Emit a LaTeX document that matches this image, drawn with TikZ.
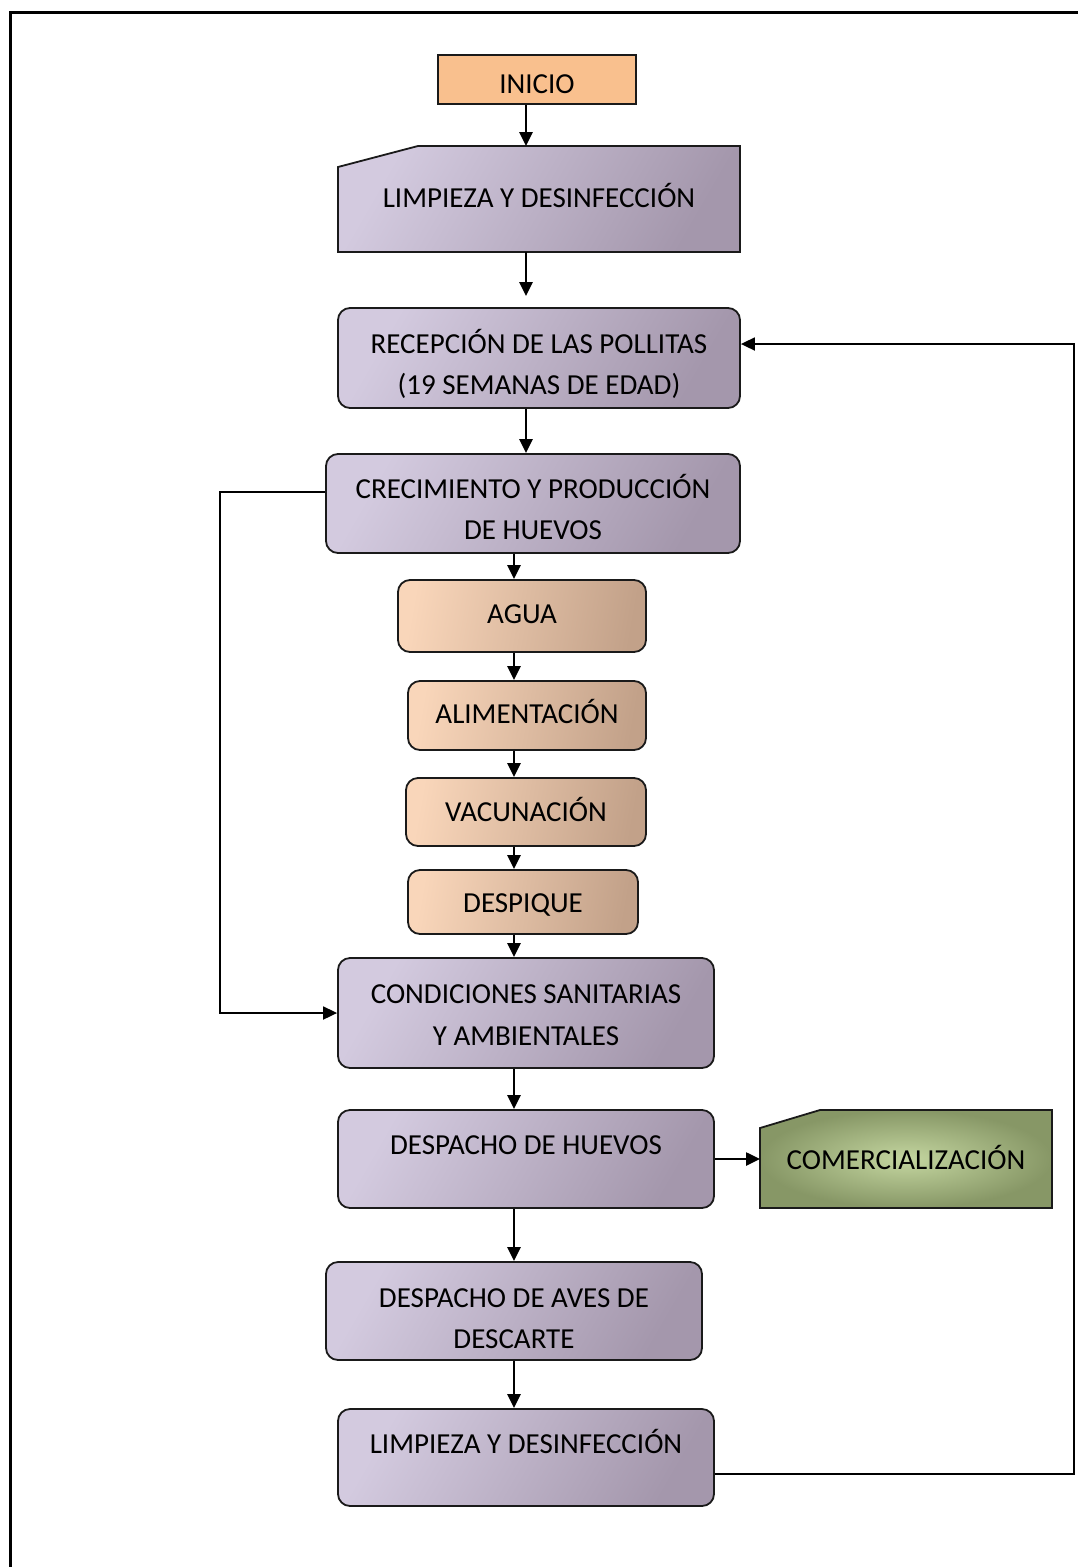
\documentclass[tikz,border=0pt]{standalone}
\usepackage{fontspec}
\setmainfont{Carlito}
\usetikzlibrary{arrows.meta,calc}
\definecolor{edge}{HTML}{1A1A1A}
\definecolor{orangefill}{HTML}{F9C08E}
\definecolor{lavL}{HTML}{D3CADF}
\definecolor{lavD}{HTML}{A497AC}
\definecolor{brL}{HTML}{F9D6BA}
\definecolor{brD}{HTML}{C2A189}
\definecolor{grIn}{HTML}{C4D6A0}
\definecolor{grOut}{HTML}{879766}
\tikzset{
  boxbase/.style={draw=edge, line width=1.8pt, inner sep=0pt},
  roundbox/.style={boxbase, rounded corners=12pt},
  lav/.style={left color=lavL, right color=lavD, shading angle=60},
  brown/.style={left color=brL, right color=brD, shading angle=80},
  green/.style={inner color=grIn, outer color=grOut},
  ghost/.style={inner sep=0pt, outer sep=0pt},
  txt/.style={anchor=base, inner sep=0pt, text=black, font=\fontsize{29}{35}\selectfont},
  arr/.style={line width=2.6pt, -{Triangle[length=14pt,width=13pt]}},
  looparr/.style={line width=1.8pt, -{Triangle[length=14pt,width=13pt]}},
}
\begin{document}
\begin{tikzpicture}[x=1pt,y=-1pt]
\useasboundingbox (0,0) rectangle (1078,1567);
\fill[white] (0,0) rectangle (1078,1567);
% frame
\draw[line width=3pt] (10,1567) -- (10,12) -- (1078,12);

\coordinate (spineA) at (526,0);
\coordinate (spineB) at (514,0);

% boxes
\node[boxbase, fill=orangefill, minimum width=198pt, minimum height=49pt] (inicio) at (537,79.5) {};
\node[ghost, minimum width=402pt, minimum height=106pt] (limp1) at (539,199) {};
\path[boxbase, lav] ($(limp1.north west)+(0,21)$) -- ($(limp1.north west)+(80,0)$) -- (limp1.north east) -- (limp1.south east) -- (limp1.south west) -- cycle;
\node[roundbox, lav, minimum width=402pt, minimum height=100pt] (recep) at (539,358) {};
\node[roundbox, lav, minimum width=414pt, minimum height=99pt] (crec) at (533,503.5) {};
\node[roundbox, brown, minimum width=248pt, minimum height=72pt] (agua) at (522,616) {};
\node[roundbox, brown, minimum width=238pt, minimum height=69pt] (alim) at (527,715.5) {};
\node[roundbox, brown, minimum width=240pt, minimum height=68pt] (vac) at (526,812) {};
\node[roundbox, brown, minimum width=230pt, minimum height=64pt] (desp) at (523,902) {};
\node[roundbox, lav, minimum width=376pt, minimum height=110pt] (cond) at (526,1013) {};
\node[roundbox, lav, minimum width=376pt, minimum height=98pt] (dhue) at (526,1159) {};
\node[ghost, minimum width=292pt, minimum height=98pt] (comerc) at (906,1159) {};
\path[boxbase, green] ($(comerc.north west)+(0,18)$) -- ($(comerc.north west)+(60,0)$) -- (comerc.north east) -- (comerc.south east) -- (comerc.south west) -- cycle;
\node[roundbox, lav, minimum width=376pt, minimum height=98pt] (aves) at (514,1311) {};
\node[roundbox, lav, minimum width=376pt, minimum height=97pt] (limp2) at (526,1457.5) {};

% texts
\node[txt] (tinicio) at (537,93) {INICIO};
\node[txt] (tlimp1) at (539,207) {LIMPIEZA Y DESINFECCIÓN};
\node[txt] (trecepA) at (539,353) {RECEPCIÓN DE LAS POLLITAS};
\node[txt] (trecepB) at (539,394) {(19 SEMANAS DE EDAD)};
\node[txt] (tcrecA) at (533,498) {CRECIMIENTO Y PRODUCCIÓN};
\node[txt] (tcrecB) at (533,539) {DE HUEVOS};
\node[txt] (tagua) at (522,623) {AGUA};
\node[txt] (talim) at (527,723) {ALIMENTACIÓN};
\node[txt] (tvac) at (526,821) {VACUNACIÓN};
\node[txt] (tdesp) at (523,912) {DESPIQUE};
\node[txt] (tcondA) at (526,1003) {CONDICIONES SANITARIAS};
\node[txt] (tcondB) at (526,1045) {Y AMBIENTALES};
\node[txt] (tdhue) at (526,1154) {DESPACHO DE HUEVOS};
\node[txt] (tcomerc) at (906,1169) {COMERCIALIZACIÓN};
\node[txt] (tavesA) at (514,1307) {DESPACHO DE AVES DE};
\node[txt] (tavesB) at (514,1348) {DESCARTE};
\node[txt] (tlimp2) at (526,1453) {LIMPIEZA Y DESINFECCIÓN};

% connectors
\draw[arr] (inicio.south -| spineA) -- (limp1.north -| spineA);
\draw[arr, shorten >=11pt] (limp1.south -| spineA) -- (recep.north -| spineA);
\draw[arr] (recep.south -| spineA) -- (crec.north -| spineA);
\draw[arr] (crec.south -| spineB) -- (agua.north -| spineB);
\draw[arr] (agua.south -| spineB) -- (alim.north -| spineB);
\draw[arr] (alim.south -| spineB) -- (vac.north -| spineB);
\draw[arr] (vac.south -| spineB) -- (desp.north -| spineB);
\draw[arr] (desp.south -| spineB) -- (cond.north -| spineB);
\draw[arr] (cond.south -| spineB) -- (dhue.north -| spineB);
\draw[arr] (dhue.east) -- (comerc.west);
\draw[arr] (dhue.south -| spineB) -- (aves.north -| spineB);
\draw[arr] (aves.south -| spineB) -- (limp2.north -| spineB);

\coordinate (lpL) at (220,492);
\coordinate (lpR) at (1074,1474);
\coordinate (lpRtop) at (1074,344);
\draw[looparr] (crec.west |- lpL) -- (lpL) -- (lpL |- cond.west) -- (cond.west);
\draw[looparr] (limp2.east |- lpR) -- (lpR) -- (lpRtop) -- (recep.east |- lpRtop);
\end{tikzpicture}
\end{document}
